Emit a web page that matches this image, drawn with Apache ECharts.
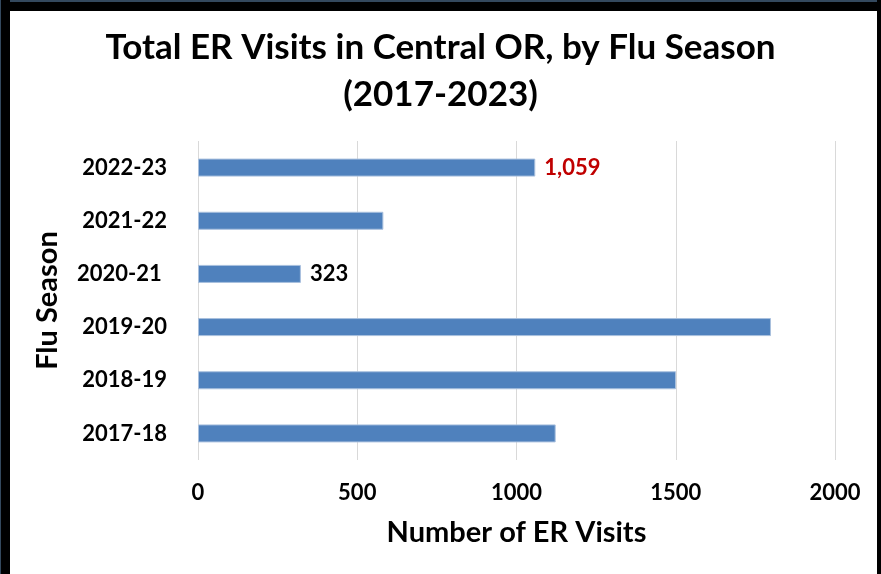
<!DOCTYPE html>
<html>
<head>
<meta charset="utf-8">
<script src="https://cdn.jsdelivr.net/npm/echarts@6/dist/echarts.min.js"></script>
<style>
  html, body { margin: 0; padding: 0; background: #fff; }
  #chart { width: 881px; height: 574px; }
</style>
</head>
<body>
<div id="chart"></div>
<script>
// seasons, bottom to top
var seasons = ['2017-18', '2018-19', '2019-20', '2020-21 ', '2021-22', '2022-23'];
var visits = [1123, 1501, 1799, 323, 582, 1059];
var xTicks = [0, 500, 1000, 1500, 2000];
// which bars carry a value label, and its colour
var labelColors = [null, null, null, '#000000', null, '#C00000'];

var FONT = 'Lato';

function fmt(v) {
  return v >= 1000 ? String(v).replace(/\B(?=(\d{3})+(?!\d))/g, ',') : String(v);
}

var myChart = echarts.init(document.getElementById('chart'));

var option = {
  backgroundColor: '#fff',
  animation: false,
  title: {
    text: 'Total ER Visits in Central OR, by Flu Season\n(2017-2023)',
    left: 'center',
    top: 19,
    textStyle: {
      fontFamily: FONT,
      fontSize: 35,
      fontWeight: 'bold',
      color: '#000',
      lineHeight: 47
    }
  },
  grid: {
    left: 198,
    right: 46,
    top: 141,
    bottom: 114
  },
  xAxis: {
    type: 'value',
    min: xTicks[0],
    max: xTicks[xTicks.length - 1],
    interval: 500,
    name: 'Number of ER Visits',
    nameLocation: 'middle',
    nameGap: 58,
    nameTextStyle: {
      fontFamily: FONT,
      fontSize: 29,
      fontWeight: 'bold',
      color: '#000'
    },
    axisLine: { show: false },
    axisTick: { show: false },
    axisLabel: {
      margin: 22,
      fontFamily: FONT,
      fontSize: 22,
      fontWeight: 'bold',
      color: '#000',
      formatter: function (v) { return String(v); }
    },
    splitLine: {
      show: true,
      lineStyle: { color: '#d9d9d9', width: 1 }
    }
  },
  yAxis: {
    type: 'category',
    data: seasons,
    name: 'Flu Season',
    nameLocation: 'middle',
    nameGap: 136,
    nameTextStyle: {
      fontFamily: FONT,
      fontSize: 29,
      fontWeight: 'bold',
      color: '#000'
    },
    axisLine: { show: false },
    axisTick: { show: false },
    axisLabel: {
      margin: 31,
      fontFamily: FONT,
      fontSize: 22,
      fontWeight: 'bold',
      color: '#000'
    }
  },
  series: [
    {
      type: 'bar',
      barWidth: 18,
      itemStyle: {
        color: '#4F81BD',
        borderColor: '#a9c0de',
        borderWidth: 1
      },
      data: visits.map(function (v, i) {
        var c = labelColors[i];
        return {
          value: v,
          label: {
            show: !!c,
            position: 'right',
            distance: 9,
            formatter: function (p) { return fmt(p.value); },
            fontFamily: FONT,
            fontSize: 22,
            fontWeight: 'bold',
            color: c || '#000'
          }
        };
      })
    }
  ],
  graphic: [
    // black frame round the picture
    { type: 'rect', left: 0, top: 0, shape: { width: 881, height: 11 }, style: { fill: '#000' } },
    { type: 'rect', left: 0, top: 0, shape: { width: 881, height: 2 }, style: { fill: '#34495e' } },
    { type: 'rect', left: 0, top: 0, shape: { width: 10, height: 574 }, style: { fill: '#000' } },
    { type: 'rect', left: 0, top: 0, shape: { width: 1, height: 574 }, style: { fill: '#34495e' } },
    { type: 'rect', right: 0, top: 0, shape: { width: 4, height: 574 }, style: { fill: '#000' } }
  ]
};

myChart.setOption(option);
</script>
</body>
</html>
